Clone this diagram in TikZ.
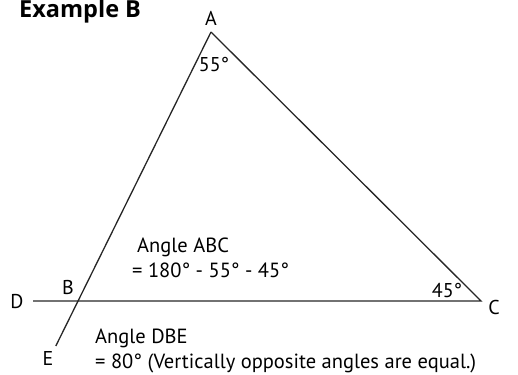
\documentclass[tikz,border=0pt]{standalone}
\usepackage{fontspec}
\setmainfont{PT Sans}
\newfontfamily\titlefont{Open Sans}
\begin{document}
\begin{tikzpicture}[x=1pt,y=-1pt,
  lbl/.style={inner sep=0pt,font=\fontsize{20}{22}\selectfont},
  txt/.style={inner sep=0pt,anchor=base west,font=\fontsize{20.5}{23}\selectfont},
  ln/.style={line width=1.3pt,black!85}]
\useasboundingbox (0,0) rectangle (518,374);
\coordinate (A) at (211,32);
\coordinate (B) at (78,301);
\coordinate (C) at (481,301);
\coordinate (D) at (33,301);
\coordinate (E) at (55.8,346);
\draw[ln] (A) -- (C) -- (D);
\draw[ln] (A) -- (E);
\node[inner sep=0pt,anchor=base west,font=\titlefont\fontsize{23.5}{26}\bfseries] (title) at (19,18) {Example B};
\node[lbl] (la) at (211,18) {A};
\node[lbl] (lb) at (68,287) {B};
\node[lbl] (ld) at (17,302) {D};
\node[lbl] (lc) at (494,307) {C};
\node[lbl] (le) at (48,358) {E};
\node[lbl] (a55) at (214,65) {55°};
\node[lbl] (c45) at (447,290) {45°};
\node[txt] (t1) at (137,252) {Angle ABC};
\node[txt] (t2) at (132,277) {= 180° - 55° - 45°};
\node[txt] (t3) at (95,343) {Angle DBE};
\node[txt] (t4) at (95,368) {= 80° (Vertically opposite angles are equal.)};
\end{tikzpicture}
\end{document}
